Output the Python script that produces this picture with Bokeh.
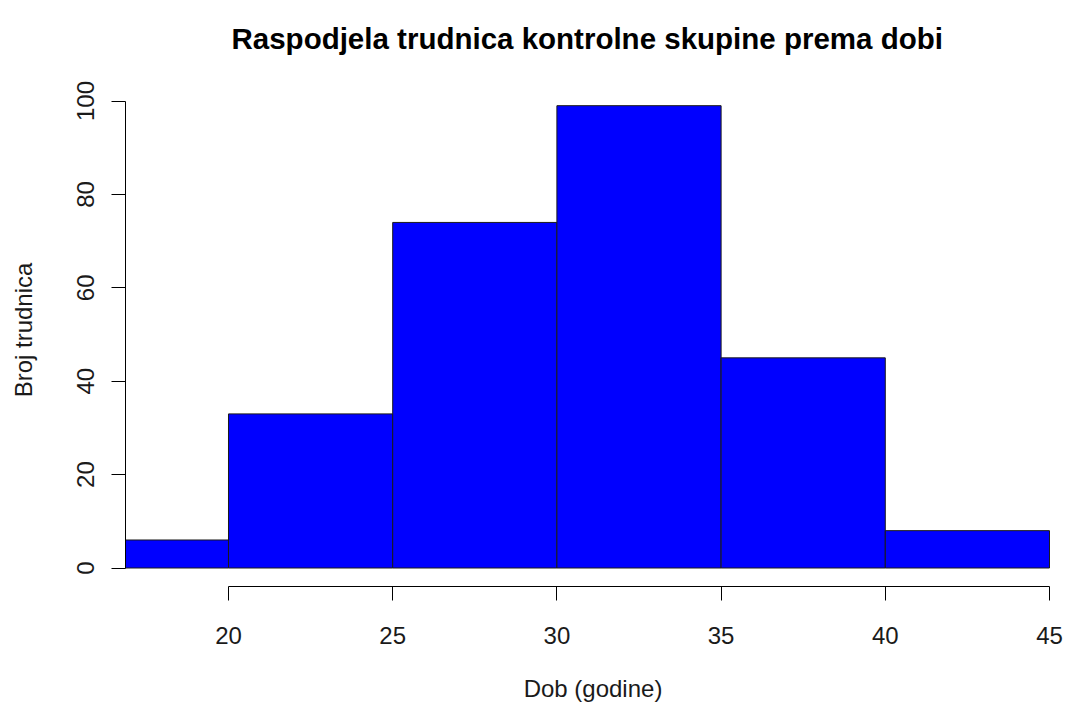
from bokeh.plotting import figure
from bokeh.models import Range1d, FixedTicker
from bokeh.embed import file_html
from bokeh.resources import INLINE

# Data
bin_edges = [15, 20, 25, 30, 35, 40, 45]
counts = [6, 33, 74, 99, 45, 8]
x_ticks = [20, 25, 30, 35, 40, 45]
y_ticks = [0, 20, 40, 60, 80, 100]

title_text = "Raspodjela trudnica kontrolne skupine prema dobi"
x_label = "Dob (godine)"
y_label = "Broj trudnica"

FONT = "Liberation Sans"

p = figure(width=1068, height=709, output_backend="svg", toolbar_location=None,
           x_range=Range1d(16.864, 45.335), y_range=Range1d(-3.96, 105.89),
           min_border_left=125, min_border_right=8, min_border_top=73, min_border_bottom=123,
           title=title_text)

p.quad(left=bin_edges[:-1], right=bin_edges[1:], bottom=[0] * len(counts), top=counts,
       fill_color="#0000FF", line_color="#1a1a1a", line_width=1)

p.outline_line_color = None
p.xgrid.grid_line_color = None
p.ygrid.grid_line_color = None
p.background_fill_color = "white"
p.border_fill_color = "white"

p.title.align = "left"
p.title.offset = 106
p.title.text_font = FONT
p.title.text_font_size = "29.5px"
p.title.text_font_style = "bold"
p.title.text_color = "#000000"
p.title.standoff = 37

for ax in (p.xaxis[0], p.yaxis[0]):
    ax.axis_line_color = "#000000"
    ax.axis_line_width = 1
    ax.major_tick_line_color = "#000000"
    ax.major_tick_out = 14
    ax.major_tick_in = 0
    ax.minor_tick_out = 0
    ax.minor_tick_in = 0
    ax.major_label_text_font = FONT
    ax.major_label_text_font_size = "24px"
    ax.major_label_text_color = "#1a1a1a"
    ax.axis_label_text_font = FONT
    ax.axis_label_text_font_size = "24px"
    ax.axis_label_text_font_style = "normal"
    ax.axis_label_text_color = "#1a1a1a"

p.xaxis[0].ticker = FixedTicker(ticks=x_ticks)
p.xaxis[0].bounds = (x_ticks[0], x_ticks[-1])
p.xaxis[0].axis_label = x_label
p.xaxis[0].major_label_standoff = 26
p.xaxis[0].axis_label_standoff = 28

p.yaxis[0].ticker = FixedTicker(ticks=y_ticks)
p.yaxis[0].bounds = (y_ticks[0], y_ticks[-1])
p.yaxis[0].axis_label = y_label
p.yaxis[0].major_label_orientation = "vertical"
p.yaxis[0].major_label_standoff = 17
p.yaxis[0].axis_label_standoff = 38

open("out.html", "w").write(file_html(p, INLINE))
